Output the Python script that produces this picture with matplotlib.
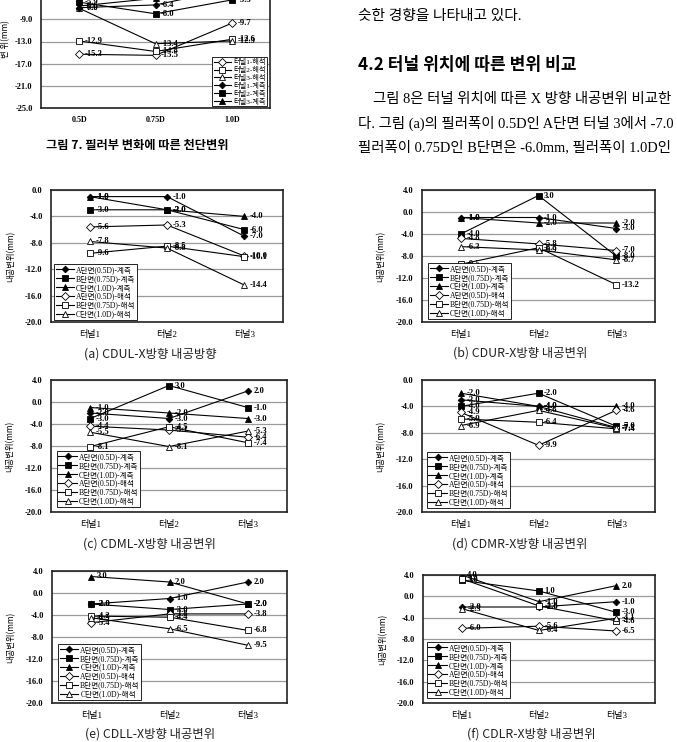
import matplotlib
matplotlib.use('Agg')
import matplotlib.pyplot as plt
import numpy as np

W, H = 677, 742
SERIF_KR = ['Liberation Serif', 'Noto Sans CJK KR']
SANS_KR = ['Noto Sans CJK KR', 'DejaVu Sans']

# ---- figure 7 (top, cropped) ----
fig7_cats = ['0.5D', '0.75D', '1.0D']
fig7_names = ['터널1-해석', '터널2-해석', '터널3-해석', '터널1-계측', '터널2-계측', '터널3-계측']
fig7_t1_calc = [-15.3, -15.5, -9.7]
fig7_t2_calc = [-12.9, -14.8, -12.6]
fig7_t3_calc = [-7.0, -13.4, -12.9]
fig7_t1_meas = [-6.9, -6.4, -3.5]
fig7_t2_meas = [-5.9, -8.0, -5.5]
fig7_t3_meas = [-6.6, -5.2, -2.5]

# ---- figure 8 panels ----
tunnels = ['터널1', '터널2', '터널3']
series_names = ['A단면(0.5D)-계측', 'B단면(0.75D)-계측', 'C단면(1.0D)-계측',
                'A단면(0.5D)-해석', 'B단면(0.75D)-해석', 'C단면(1.0D)-해석']

a_vals = [[-1.0, -1.0, -7.0], [-3.0, -3.0, -6.0], [-1.0, -3.0, -4.0],
          [-5.6, -5.3, -10.0], [-9.6, -8.5, -10.1], [-7.8, -8.8, -14.4]]
b_vals = [[-1.0, -1.0, -3.0], [-4.0, 3.0, -8.0], [-1.0, -2.0, -2.0],
          [-4.8, -5.8, -7.0], [-9.5, -6.5, -13.2], [-6.3, -6.9, -8.7]]
c_vals = [[-2.0, -3.0, 2.0], [-3.0, 3.0, -1.0], [-1.0, -2.0, -3.0],
          [-4.4, -5.1, -6.4], [-8.1, -4.5, -7.4], [-5.5, -8.1, -5.3]]
d_vals = [[-3.0, -4.0, -7.2], [-4.0, -2.0, -7.0], [-2.0, -4.0, -4.0],
          [-4.9, -9.9, -4.6], [-5.9, -6.4, -7.4], [-6.9, -4.6, -7.3]]
e_vals = [[-2.0, -1.0, 2.0], [-2.0, -3.0, -2.0], [3.0, 2.0, -2.0],
          [-5.4, -3.8, -3.8], [-4.2, -4.4, -6.8], [-4.5, -6.5, -9.5]]
f_vals = [[-2.0, -2.0, -1.0], [3.0, 1.0, -3.0], [4.0, -1.0, 2.0],
          [-6.0, -5.6, -6.5], [3.3, -1.8, -4.6], [-2.3, -6.4, -4.1]]

captions = ['(a) CDUL-X방향 내공방향', '(b) CDUR-X방향 내공변위', '(c) CDML-X방향 내공변위',
            '(d) CDMR-X방향 내공변위', '(e) CDLL-X방향 내공변위', '(f) CDLR-X방향 내공변위']

FILLED = [('D', 'k', 3.4), ('s', 'k', 5.0), ('^', 'k', 5.0)]
OPEN = [('D', 'white', 3.8), ('s', 'white', 5.0), ('^', 'white', 5.0)]

fig = plt.figure(figsize=(W / 100, H / 100), dpi=100)
fig.patch.set_facecolor('white')


def box(x0, y0, x1, y1):
    return [x0 / W, 1 - y1 / H, (x1 - x0) / W, (y1 - y0) / H]


def ftext(x, y, s, **kw):
    fig.text(x / W, 1 - y / H, s, **kw)


def draw_chart(rect, cats, names, vals, markers, ylim, leg_anchor, leg_loc='lower left',
               leg_size=5.5):
    ax = fig.add_axes(box(*rect))
    x = np.arange(len(cats))
    for i, v in enumerate(vals):
        m, fc, ms = markers[i]
        ax.plot(x, v, color='k', lw=0.8, marker=m, ms=ms, mfc=fc, mec='k',
                mew=0.6, label=names[i], zorder=3)
        for xi, yi in zip(x, v):
            ax.annotate('%.1f' % yi, (xi, yi), xytext=(4, 0), textcoords='offset points',
                        fontsize=6.2, fontweight='bold', family='Liberation Serif',
                        va='center', ha='left', zorder=4)
    ax.set_xlim(-0.5, len(cats) - 0.5)
    ax.set_ylim(*ylim)
    ticks = np.arange(ylim[0], ylim[1] + 0.1, 4)
    ax.set_yticks(ticks)
    ax.set_yticklabels(['%.1f' % t for t in ticks], fontsize=6, fontweight='bold',
                       family='Liberation Serif')
    ax.set_xticks(x)
    ax.set_xticklabels(cats, fontsize=6.5, family=SERIF_KR)
    ax.tick_params(axis='both', length=0)
    ax.tick_params(axis='y', pad=6)
    ax.tick_params(axis='x', pad=6)
    ax.yaxis.grid(True, color='#9a9a9a', lw=0.9)
    ax.set_axisbelow(True)
    for sp in ax.spines.values():
        sp.set_color('#222222')
        sp.set_linewidth(1.2)
    leg = ax.legend(loc=leg_loc, bbox_to_anchor=leg_anchor, borderaxespad=0,
                    prop={'family': SERIF_KR, 'size': leg_size}, fancybox=False,
                    edgecolor='k', framealpha=1, borderpad=0.2, handlelength=2.4,
                    handletextpad=0.3, labelspacing=0.12)
    leg.get_frame().set_linewidth(0.6)
    return ax


# top figure (cropped at page top)
ax7 = draw_chart((41, -25, 270, 108), fig7_cats, fig7_names,
                 [fig7_t1_calc, fig7_t2_calc, fig7_t3_calc,
                  fig7_t1_meas, fig7_t2_meas, fig7_t3_meas],
                 OPEN + FILLED, (-25, -1), (0.987, 0.015), leg_loc='lower right',
                 leg_size=5.2)
ax7.set_xticklabels(fig7_cats, fontsize=5.8, fontweight='bold', family='Liberation Serif')
ax7.set_ylabel('변 위(mm)', fontsize=6, family=SANS_KR)
ax7.yaxis.set_label_coords(-0.135, 0.52)
ftext(46, 146, '그림 7. 필러부 변화에 따른 천단변위', fontsize=8.8, fontweight='bold',
      family=SANS_KR, va='center', ha='left')

# right column text (cut at the page edge as in the scan)
ftext(358, 16, '슷한 경향을 나타내고 있다.', fontsize=10.6, family=SERIF_KR, va='center')
ftext(358, 65, '4.2 터널 위치에 따른 변위 비교', fontsize=12.3, fontweight='bold',
      family=SANS_KR, va='center')
ftext(373, 99, '그림 8은 터널 위치에 따른 X 방향 내공변위 비교한', fontsize=10.4,
      family=SERIF_KR, va='center')
ftext(358, 123, '다. 그림 (a)의 필러폭이 0.5D인 A단면 터널 3에서 -7.0', fontsize=10.4,
      family=SERIF_KR, va='center')
ftext(358, 147, '필러폭이 0.75D인 B단면은 -6.0mm, 필러폭이 1.0D인', fontsize=10.4,
      family=SERIF_KR, va='center')

panels = [
    ((51, 190, 283, 322), a_vals, (-20, 0), (0.013, 0.015), (150, 354)),
    ((422, 190, 655, 322), b_vals, (-20, 4), (0.026, 0.023), (520, 353)),
    ((51, 380, 287, 512), c_vals, (-20, 4), (0.025, 0.038), (149, 544)),
    ((422, 380, 655, 512), d_vals, (-20, 0), (0.021, 0.03), (520, 544)),
    ((52, 571, 287, 703), e_vals, (-20, 4), (0.026, 0.023), (150, 734)),
    ((423, 575, 655, 703), f_vals, (-20, 4), (0.017, 0.039), (531, 734)),
]
for (rect, vals, ylim, anchor, cap), caption in zip(panels, captions):
    ax = draw_chart(rect, tunnels, series_names, vals, FILLED + OPEN, ylim, anchor)
    ax.set_ylabel('내공변위(mm)', fontsize=6, family=SANS_KR)
    ax.yaxis.set_label_coords(-0.155, 0.5)
    ftext(cap[0], cap[1], caption, fontsize=8.9, family=SANS_KR, ha='center', va='center',
          color='#222222')

fig.savefig('out.png', dpi=100, facecolor='white')
